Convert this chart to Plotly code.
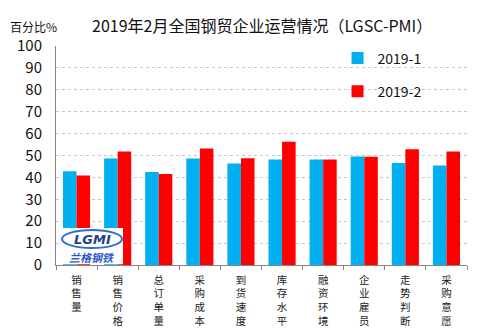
import plotly.graph_objects as go

categories = ["销售量", "销售价格", "总订单量", "采购成本", "到货速度", "库存水平", "融资环境", "企业雇员", "走势判断", "采购意愿"]
series_2019_1 = [42.8, 48.6, 42.5, 48.6, 46.3, 48.2, 48.2, 49.5, 46.6, 45.4]
series_2019_2 = [40.9, 51.8, 41.6, 53.2, 48.7, 56.3, 48.2, 49.4, 52.9, 51.8]
y_ticks = [0, 10, 20, 30, 40, 50, 60, 70, 80, 90, 100]

FONT = "Noto Sans CJK SC, Noto Sans, sans-serif"

# plot area in pixels
PL, PR, PT, PB = 56, 467, 46, 265
PW, PH = PR - PL, PB - PT


def px_x(x):
    return (x - PL) / PW


def px_y(y):
    return (PB - y) / PH


fig = go.Figure()
fig.add_trace(go.Bar(x=categories, y=series_2019_1, name="2019-1",
                     marker=dict(color="#00B0F0", line=dict(width=0)), legendgroup="a"))
fig.add_trace(go.Bar(x=categories, y=series_2019_2, name="2019-2",
                     marker=dict(color="#FF0000", line=dict(width=0)), legendgroup="b"))

vertical_labels = ["<br>".join(list(c)) for c in categories]

annotations = []
annotations.append(dict(x=0.5, xref="paper", y=px_y(25), yref="paper", xanchor="center",
                        text="2019年2月全国钢贸企业运营情况（LGSC-PMI）", showarrow=False,
                        yanchor="middle", font=dict(family=FONT, size=16, color="#111")))
annotations.append(dict(x=px_x(8), xref="paper", y=px_y(27), yref="paper",
                        text="百分比%", showarrow=False, xanchor="left", yanchor="middle",
                        font=dict(family=FONT, size=12, color="#111")))
# watermark logo approximation
annotations.append(dict(x=px_x(92), xref="paper", y=px_y(239), yref="paper", xanchor="center",
                        text="<b><i>LGMI</i></b>", showarrow=False, yanchor="middle",
                        font=dict(family="DejaVu Sans", size=13, color="#1F3F8F")))
annotations.append(dict(x=px_x(92), xref="paper", y=px_y(257), yref="paper", xanchor="center",
                        text="<b><i>兰格钢铁</i></b>", showarrow=False, yanchor="middle",
                        font=dict(family=FONT, size=11, color="#2E5BC8")))

shapes = [
    dict(type="rect", xref="paper", yref="paper", x0=px_x(62), x1=px_x(123),
         y0=0.003, y1=px_y(228), fillcolor="white", line=dict(width=0), layer="above"),
    dict(type="circle", xref="paper", yref="paper", x0=px_x(62), x1=px_x(122),
         y0=px_y(248), y1=px_y(230), fillcolor="rgba(0,0,0,0)",
         line=dict(width=2, color="#2E6FD0"), layer="above"),
]

fig.update_layout(
    width=500, height=334,
    margin=dict(l=PL, r=500 - PR, t=PT, b=334 - PB, autoexpand=False),
    paper_bgcolor="white", plot_bgcolor="white",
    barmode="group", bargap=0.34, bargroupgap=0,
    font=dict(family=FONT, size=13, color="#111"),
    showlegend=True,
    legend=dict(x=0.685, y=1.016, xanchor="left", yanchor="top", tracegroupgap=12,
                font=dict(family=FONT, size=14, color="#111"), bgcolor="rgba(0,0,0,0)",
                itemwidth=30),
    annotations=annotations,
    shapes=shapes,
)
fig.update_xaxes(tickmode="array", tickvals=categories, ticktext=vertical_labels,
                 tickangle=0, tickfont=dict(family=FONT, size=10.5, color="#222"),
                 showline=True, linecolor="#868686", linewidth=1, automargin=False,
                 ticks="outside", ticklen=4, tickcolor="#868686", tickson="boundaries",
                 ticklabelstandoff=5, showgrid=False)
fig.update_yaxes(range=[0, 100], tickvals=y_ticks, showline=True, linecolor="#868686",
                 linewidth=1, showgrid=True, gridcolor="#c8c8c8", griddash="dot",
                 tickfont=dict(family=FONT, size=15, color="#111"), ticks="",
                 ticklabelstandoff=10, zeroline=False, automargin=False)

fig.write_html("out.html")
